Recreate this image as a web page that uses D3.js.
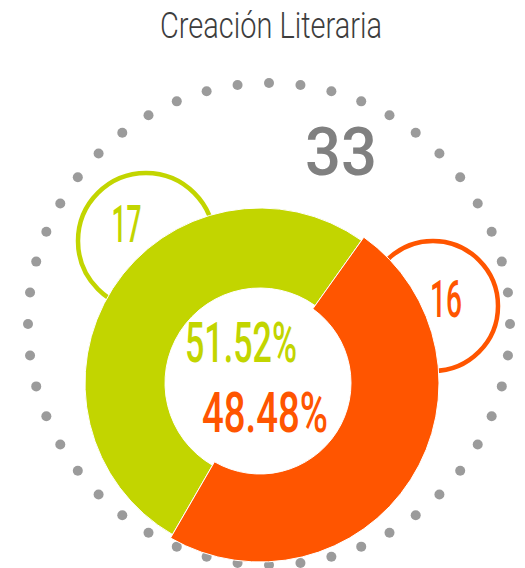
<!DOCTYPE html>
<html>
<head>
<meta charset="utf-8">
<script src="https://cdn.jsdelivr.net/npm/d3@7"></script>
<style>
  body { margin: 0; background: #fff; }
  svg { display: block; }
  .title { font-family: Roboto, "Open Sans", sans-serif; font-weight: 300; fill: #3d3d3d; }
  .num { font-family: Roboto, "Open Sans", sans-serif; font-weight: 500; }
</style>
</head>
<body>
<svg id="chart" width="525" height="568"></svg>
<script>
  var title = "Creación Literaria";
  var categories = ["A", "B"];
  var values = [17, 16];
  var colors = ["#c2d500", "#ff5500"];

  var width = 525, height = 568;
  var svg = d3.select("#chart");

  var total = d3.sum(values);
  var pct = d3.format(".2%");

  // title
  svg.append("text")
    .attr("class", "title")
    .attr("x", 271).attr("y", 38)
    .attr("text-anchor", "middle")
    .attr("font-size", 37)
    .attr("textLength", 222)
    .attr("lengthAdjust", "spacingAndGlyphs")
    .text(title);

  // dotted ring
  var ringR = 241, ringCx = 269, ringCy = 324;
  var dots = d3.range(48);
  var dotAngle = d3.scaleLinear().domain([0, dots.length]).range([0, 2 * Math.PI]);
  svg.append("g").selectAll("circle")
    .data(dots)
    .enter().append("circle")
    .attr("cx", function(d) { return ringCx + ringR * Math.sin(dotAngle(d)); })
    .attr("cy", function(d) { return ringCy - ringR * Math.cos(dotAngle(d)); })
    .attr("r", 5)
    .attr("fill", "#9b9b9b");

  // total
  svg.append("text")
    .attr("class", "num")
    .attr("x", 341).attr("y", 175)
    .attr("text-anchor", "middle")
    .attr("font-size", 66)
    .attr("textLength", 72)
    .attr("lengthAdjust", "spacingAndGlyphs")
    .attr("fill", "#808080")
    .text(total);

  // value bubbles (behind the donut)
  var bubbles = [
    { cx: 146, cy: 241, r: 68, tx: 126.5, ty: 242, tw: 30, fs: 51 },
    { cx: 433, cy: 306, r: 65, tx: 446, ty: 317, tw: 32, fs: 52 }
  ];
  var bub = svg.append("g").selectAll("g")
    .data(values)
    .enter().append("g");
  bub.append("circle")
    .attr("cx", function(d, i) { return bubbles[i].cx; })
    .attr("cy", function(d, i) { return bubbles[i].cy; })
    .attr("r", function(d, i) { return bubbles[i].r; })
    .attr("fill", "#fff")
    .attr("stroke", function(d, i) { return colors[i]; })
    .attr("stroke-width", 4.5);
  bub.append("text")
    .attr("class", "num")
    .attr("x", function(d, i) { return bubbles[i].tx; })
    .attr("y", function(d, i) { return bubbles[i].ty; })
    .attr("text-anchor", "middle")
    .attr("font-size", function(d, i) { return bubbles[i].fs; })
    .attr("textLength", function(d, i) { return bubbles[i].tw; })
    .attr("lengthAdjust", "spacingAndGlyphs")
    .attr("fill", function(d, i) { return colors[i]; })
    .text(function(d) { return d; });

  // donut
  var cx = 260, cy = 383;
  var start = 210 * Math.PI / 180;
  var pie = d3.pie().sort(null).startAngle(start).endAngle(start + 2 * Math.PI);
  var arcs = pie(values);
  var radii = [[95, 175], [91, 179]];
  var g = svg.append("g").attr("transform", "translate(" + cx + "," + cy + ")");
  g.selectAll("path")
    .data(arcs)
    .enter().append("path")
    .attr("d", function(d, i) {
      return d3.arc().innerRadius(radii[i][0]).outerRadius(radii[i][1])(d);
    })
    .attr("fill", function(d, i) { return colors[i]; })
    .attr("stroke", "#fff")
    .attr("stroke-width", 1);

  // percentages
  var pctPos = [
    { x: 241, y: 362, w: 112 },
    { x: 265, y: 432, w: 126 }
  ];
  svg.append("g").selectAll("text")
    .data(values)
    .enter().append("text")
    .attr("class", "num")
    .attr("x", function(d, i) { return pctPos[i].x; })
    .attr("y", function(d, i) { return pctPos[i].y; })
    .attr("text-anchor", "middle")
    .attr("font-size", 55)
    .attr("textLength", function(d, i) { return pctPos[i].w; })
    .attr("lengthAdjust", "spacingAndGlyphs")
    .attr("fill", function(d, i) { return colors[i]; })
    .text(function(d) { return pct(d / total); });
</script>
</body>
</html>
